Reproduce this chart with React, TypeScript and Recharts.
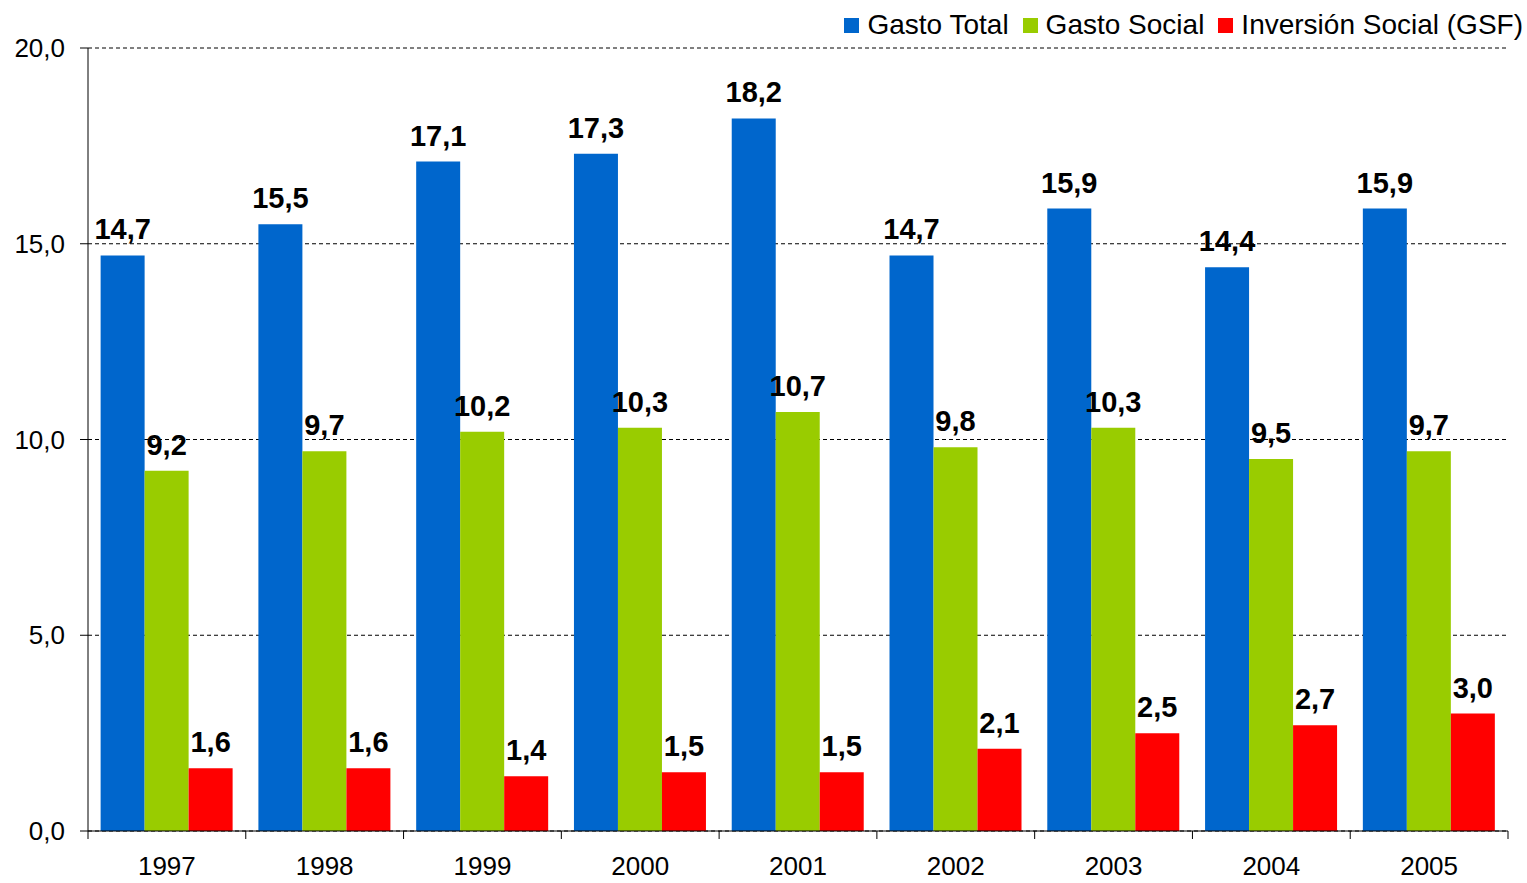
import { BarChart, Bar, XAxis, YAxis, CartesianGrid, LabelList, Legend } from 'recharts'

const years = ['1997', '1998', '1999', '2000', '2001', '2002', '2003', '2004', '2005']
const gastoTotal = [14.7, 15.5, 17.1, 17.3, 18.2, 14.7, 15.9, 14.4, 15.9]
const gastoSocial = [9.2, 9.7, 10.2, 10.3, 10.7, 9.8, 10.3, 9.5, 9.7]
const inversionSocial = [1.6, 1.6, 1.4, 1.5, 1.5, 2.1, 2.5, 2.7, 3.0]
const yTicks = [0, 5, 10, 15, 20]

const series = [
  { key: 'total', name: 'Gasto Total', color: '#0066CC' },
  { key: 'social', name: 'Gasto Social', color: '#99CC00' },
  { key: 'inversion', name: 'Inversión Social (GSF)', color: '#FF0000' },
]

const data = years.map((year, i) => ({
  year,
  total: gastoTotal[i],
  social: gastoSocial[i],
  inversion: inversionSocial[i],
}))

const W = 1527
const H = 883
// legend (top) adds its own height to the top margin
const margin = { top: 16, right: 19, left: 0, bottom: 0 }
const yAxisWidth = 88
const band = (W - margin.right - yAxisWidth) / years.length
const font = '"Liberation Sans", Arial, sans-serif'

const fmt = (v: any) => Number(v).toFixed(1).replace('.', ',')

// ticks at category boundaries, label at the centre
const YearTick = ({ x, y, payload, index }: any) => {
  const axisY = y - 12
  return (
    <g>
      <line x1={x - band / 2} x2={x - band / 2} y1={axisY} y2={axisY + 8} stroke="#000" />
      {index === years.length - 1 && (
        <line x1={x + band / 2} x2={x + band / 2} y1={axisY} y2={axisY + 8} stroke="#000" />
      )}
      <text x={x} y={axisY + 44} textAnchor="middle" fontSize={26} fill="#000" fontFamily={font}>
        {payload.value}
      </text>
    </g>
  )
}

const renderLegend = () => (
  <div style={{ display: 'flex', alignItems: 'center', fontFamily: font, fontSize: 28, color: '#000' }}>
    {series.map(s => (
      <span key={s.key} style={{ display: 'flex', alignItems: 'center', marginLeft: 14 }}>
        <span style={{ width: 15, height: 15, background: s.color, display: 'inline-block', marginRight: 8 }} />
        {s.name}
      </span>
    ))}
  </div>
)

export default function App() {
  return (
    <div style={{ position: 'absolute', left: 0, top: 0, background: '#fff' }}>
      <BarChart width={W} height={H} data={data} margin={margin} barCategoryGap="8%" barGap={0}>
        <CartesianGrid vertical={false} stroke="#000" strokeDasharray="4 3" />
        <XAxis
          dataKey="year"
          height={52}
          tickLine={false}
          tickSize={8}
          tickMargin={4}
          tick={<YearTick />}
          axisLine={{ stroke: '#000' }}
          interval={0}
        />
        <YAxis
          width={yAxisWidth}
          domain={[0, 20]}
          ticks={yTicks}
          tickFormatter={fmt}
          tickSize={8}
          tickMargin={15}
          tickLine={{ stroke: '#000' }}
          axisLine={{ stroke: '#000' }}
          tick={{ fontSize: 26, fill: '#000', fontFamily: font }}
        />
        <Legend
          verticalAlign="top"
          align="right"
          content={renderLegend}
          wrapperStyle={{ top: 9, right: 4, left: 'auto', width: 'auto' }}
        />
        {series.map(s => (
          <Bar key={s.key} dataKey={s.key} name={s.name} fill={s.color} isAnimationActive={false}>
            <LabelList
              dataKey={s.key}
              position="top"
              offset={16}
              formatter={fmt}
              style={{ fontSize: 29, fontWeight: 'bold', fill: '#000', fontFamily: font }}
            />
          </Bar>
        ))}
      </BarChart>
    </div>
  )
}
